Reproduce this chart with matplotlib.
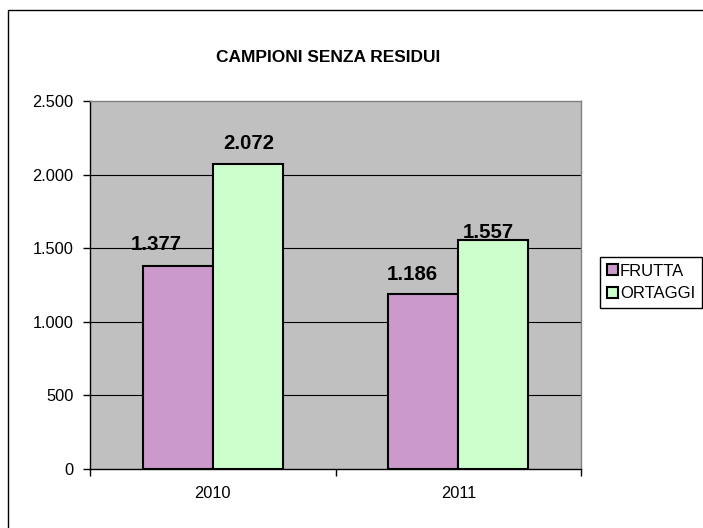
import matplotlib
matplotlib.use('Agg')
import numpy as np
import matplotlib.pyplot as plt
from matplotlib.patches import Rectangle

plt.rcParams['font.family'] = ['Liberation Sans', 'DejaVu Sans']

years = ['2010', '2011']
frutta = [1377, 1186]
ortaggi = [2072, 1557]
series_names = ['FRUTTA', 'ORTAGGI']
yticks = [0, 500, 1000, 1500, 2000, 2500]
ytick_labels = ['0', '500', '1.000', '1.500', '2.000', '2.500']

# label offsets in pixels (excel put them a bit off-center)
label_offsets = {
    'FRUTTA': [(-21.5, 16), (-10.5, 14)],
    'ORTAGGI': [(0.5, 15), (-5.5, 2)],
}


def fmt_it(v):
    """thousands separator with a dot"""
    return '{:,}'.format(v).replace(',', '.')


fig = plt.figure(figsize=(7.03, 5.28), dpi=100)
# outer chart border (runs off the right and bottom edge)
fig.patches.append(Rectangle((8/703, -0.05), 1.2, 1 - 10/528 + 0.05,
                             transform=fig.transFigure, fill=False,
                             edgecolor='black', linewidth=1.0))

ax = fig.add_axes([90/703, 1 - 469/528, (581 - 90)/703, (469 - 101)/528])
ax.set_facecolor('#C0C0C0')

x = np.arange(len(years))
w = 0.286
b1 = ax.bar(x - w/2, frutta, w, color='#CC99CC', edgecolor='black',
            linewidth=1.5, label=series_names[0], zorder=3)
b2 = ax.bar(x + w/2, ortaggi, w, color='#CCFFCC', edgecolor='black',
            linewidth=1.5, label=series_names[1], zorder=3)

for name, bars in zip(series_names, (b1, b2)):
    for r, off in zip(bars, label_offsets[name]):
        ax.annotate(fmt_it(int(r.get_height())),
                    (r.get_x() + r.get_width()/2, r.get_height()),
                    xytext=off, textcoords='offset pixels',
                    ha='center', va='baseline', fontsize=14.7,
                    fontweight='bold', zorder=4)

ax.set_xlim(-0.5, 1.5)
ax.set_ylim(0, 2500)
ax.set_yticks(yticks)
ax.set_yticklabels(ytick_labels, fontsize=11.8)
ax.set_xticks(x)
ax.set_xticklabels(years, fontsize=11.8)
ax.tick_params(axis='x', length=0, pad=12)
ax.set_xticks([-0.5, 0.5, 1.5], minor=True)
ax.tick_params(axis='x', which='minor', length=5, width=1, direction='out')
ax.tick_params(axis='y', length=5, width=1, direction='out', pad=7)

for v in yticks[1:-1]:
    ax.axhline(v, color='black', linewidth=0.8, zorder=1)

for s in ('top', 'right'):
    ax.spines[s].set_color('#808080')
    ax.spines[s].set_linewidth(1.0)
ax.spines['left'].set_linewidth(1.0)
ax.spines['bottom'].set_linewidth(1.0)

fig.text(328/703, 1 - 58/528, 'CAMPIONI SENZA RESIDUI', ha='center',
         va='center', fontsize=12.5, fontweight='bold')

leg = fig.legend(handles=[b1, b2], loc='upper left',
                 bbox_to_anchor=(600/703, 1 - 257/528), fontsize=12,
                 fancybox=False, edgecolor='black', framealpha=1,
                 handlelength=0.65, handleheight=0.65, handletextpad=0.15,
                 borderpad=0.4, labelspacing=0.45, borderaxespad=0)
leg.get_frame().set_linewidth(1.0)

fig.savefig('out.png', dpi=100)
